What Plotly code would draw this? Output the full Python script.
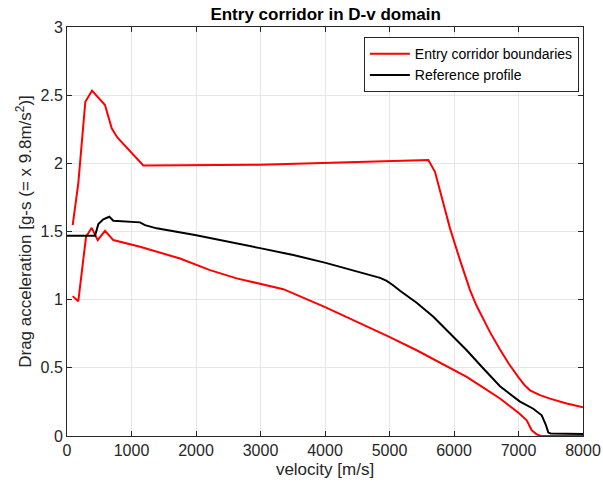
import plotly.graph_objects as go

# Upper corridor boundary (velocity m/s, drag acceleration in g)
upper_v = [88, 175, 284, 388, 589, 693, 780, 1183, 2992, 4853, 5602, 5705, 5938,
           6093, 6248, 6350, 6455, 6560, 6713, 6850, 7000, 7100, 7178, 7333, 7488,
           7747, 8000]
upper_d = [1.547, 1.853, 2.452, 2.533, 2.428, 2.257, 2.19, 1.985, 1.99, 2.012, 2.024,
           1.938, 1.523, 1.29, 1.07, 0.955, 0.855, 0.76, 0.635, 0.53, 0.43, 0.37,
           0.335, 0.3, 0.274, 0.238, 0.21]

# Lower corridor boundary
lower_v = [88, 175, 295, 383, 476, 589, 718, 1132, 1752, 2217, 2631, 3147, 3354,
           4011, 4388, 4997, 5421, 5938, 6197, 6455, 6713, 7000, 7127, 7205, 7282,
           7350, 8000]
lower_d = [1.026, 0.989, 1.461, 1.527, 1.437, 1.505, 1.437, 1.388, 1.302, 1.217,
           1.156, 1.099, 1.077, 0.943, 0.862, 0.727, 0.629, 0.495, 0.433, 0.355,
           0.275, 0.17, 0.115, 0.042, 0.012, 0.0, 0.0]

# Reference drag profile
ref_v = [0, 434, 486, 563, 656, 718, 1132, 1209, 1391, 1984, 2992, 3509, 4011,
         4388, 4700, 4853, 4950, 5050, 5163, 5421, 5680, 5938, 6197, 6455, 6713,
         7023, 7229, 7360, 7426, 7462, 7500, 8000]
ref_d = [1.468, 1.468, 1.554, 1.589, 1.608, 1.579, 1.567, 1.547, 1.523, 1.474,
         1.378, 1.327, 1.27, 1.222, 1.183, 1.16, 1.14, 1.108, 1.065, 0.977, 0.874,
         0.755, 0.629, 0.495, 0.365, 0.252, 0.2, 0.152, 0.079, 0.025, 0.018, 0.015]

x_ticks = [0, 1000, 2000, 3000, 4000, 5000, 6000, 7000, 8000]
y_ticks = [0, 0.5, 1, 1.5, 2, 2.5, 3]

RED = "#ff0000"
BLACK = "#000000"
FONT = "Liberation Sans, Arial, sans-serif"
AXIS_GRAY = "#262626"

fig = go.Figure()
fig.add_trace(go.Scatter(x=upper_v, y=upper_d, mode="lines",
                         line=dict(color=RED, width=2),
                         name="Entry corridor boundaries",
                         legendgroup="corr"))
fig.add_trace(go.Scatter(x=lower_v, y=lower_d, mode="lines",
                         line=dict(color=RED, width=2),
                         name="Entry corridor boundaries",
                         legendgroup="corr", showlegend=False))
fig.add_trace(go.Scatter(x=ref_v, y=ref_d, mode="lines",
                         line=dict(color=BLACK, width=2),
                         name="Reference profile"))

axis_common = dict(
    showgrid=True, gridcolor="#e6e6e6", gridwidth=1,
    showline=True, linecolor=AXIS_GRAY, linewidth=1, mirror="ticks",
    ticks="inside", ticklen=5, tickcolor=AXIS_GRAY,
    zeroline=False, automargin=False,
    tickfont=dict(family=FONT, size=16, color=AXIS_GRAY),
)

fig.update_xaxes(range=[0, 8000], tickvals=x_ticks,
                 ticktext=[str(t) for t in x_ticks],
                 title=dict(text="velocity [m/s]",
                            font=dict(family=FONT, size=17, color=AXIS_GRAY),
                            standoff=4),
                 **axis_common)
fig.update_yaxes(range=[0, 3], tickvals=y_ticks,
                 ticktext=[f"{t:g}" for t in y_ticks],
                 title=dict(text="Drag acceleration [g-s (= x 9.8m/s<sup>2</sup>)]",
                            font=dict(family=FONT, size=17, color=AXIS_GRAY),
                            standoff=4),
                 **axis_common)

fig.update_layout(
    width=603, height=491,
    margin=dict(l=67, r=20, t=27, b=55),
    paper_bgcolor="white", plot_bgcolor="white",
    title=dict(text="<b>Entry corridor in D-v domain</b>",
               font=dict(family=FONT, size=17, color="#000000"),
               x=0.54, xanchor="center", y=0.971, yanchor="middle"),
    legend=dict(x=0.992, xanchor="right", y=0.975, yanchor="top",
                bgcolor="white", bordercolor=AXIS_GRAY, borderwidth=1,
                font=dict(family=FONT, size=14, color="#000000"),
                tracegroupgap=0, itemwidth=40),
    showlegend=True,
)

fig.write_html("out.html")
